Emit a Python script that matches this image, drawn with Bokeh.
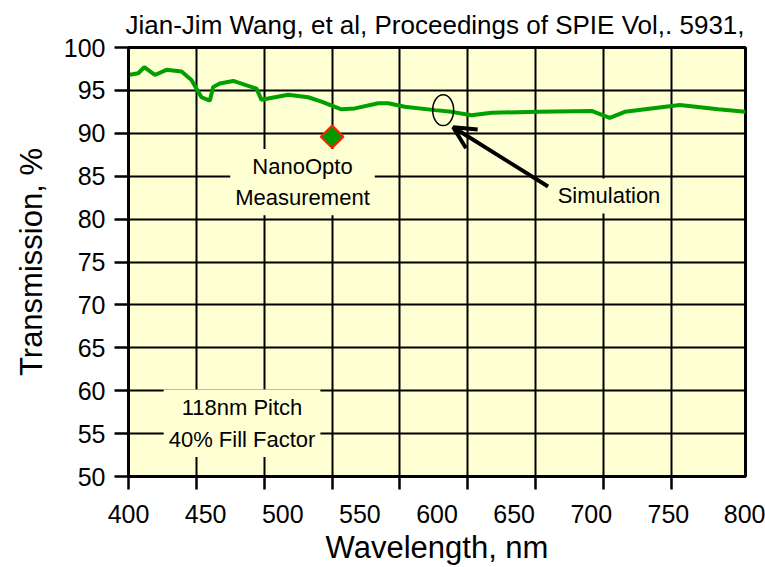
import numpy as np
from bokeh.plotting import figure
from bokeh.models import (LinearAxis, FixedTicker, Label, Arrow, OpenHead, Range1d,
                          CustomLabelingPolicy)
from bokeh.embed import file_html
from bokeh.resources import INLINE

# Simulated transmission of the wire-grid structure (wavelength in nm, transmission in %)
sim_wavelength = [400, 406.3, 410.2, 417.1, 424.6, 434.4, 440.8, 447.3, 452.7, 454.9,
                  459.2, 467.9, 483.0, 486.2, 503.5, 516.5, 525.1, 538.1, 546.7, 561.9,
                  568.4, 579.1, 598.6, 609.4, 622.4, 635.3, 665.6, 700.2, 712.0, 721.8,
                  757.4, 782.3, 800]
sim_transmission = [96.8, 97.0, 97.7, 96.8, 97.4, 97.2, 96.2, 94.2, 93.8, 95.4,
                    95.8, 96.1, 95.2, 93.9, 94.5, 94.2, 93.7, 92.8, 92.9, 93.5,
                    93.5, 93.1, 92.7, 92.5, 92.1, 92.4, 92.5, 92.6, 91.8, 92.5,
                    93.3, 92.8, 92.5]

# Single measured point
meas_wavelength = [532]
meas_transmission = [89.6]

# Axis labelling
x_label_ticks = [400, 450, 500, 550, 600, 650, 700, 750, 800]
grid_wavelengths = [400, 444, 488, 532, 576, 620, 664, 708, 752]
y_ticks = [50, 55, 60, 65, 70, 75, 80, 85, 90, 95, 100]

BG = "#FFFFD4"
FONT = "Liberation Sans"

p = figure(width=765, height=567, x_range=Range1d(400, 800), y_range=Range1d(50, 100),
           output_backend="svg", toolbar_location=None,
           min_border_left=128, min_border_right=20, min_border_top=47, min_border_bottom=91,
           background_fill_color=BG, border_fill_color="white")

p.outline_line_color = "black"
p.outline_line_width = 3

# Title
p.title.text = "Jian-Jim Wang, et al, Proceedings of SPIE Vol,. 5931,"
p.title.align = "left"
p.title.offset = -3
p.title.text_font = FONT
p.title.text_font_size = "26px"
p.title.text_font_style = "normal"
p.title.text_color = "black"
p.title.standoff = 15

# Grid
for g in (p.xgrid, p.ygrid):
    g.grid_line_color = "black"
    g.grid_line_width = 2

# Y axis
ya = p.yaxis[0]
ya.ticker = FixedTicker(ticks=y_ticks)
ya.axis_line_width = 3
ya.major_tick_out = 14
ya.major_tick_in = 0
ya.major_tick_line_width = 2.5
ya.minor_tick_line_color = None
ya.major_label_text_font = FONT
ya.major_label_text_font_size = "25px"
ya.major_label_text_color = "black"
ya.major_label_standoff = 9
ya.axis_label = "Transmission, %"
ya.axis_label_text_font = FONT
ya.axis_label_text_font_size = "31px"
ya.axis_label_text_font_style = "normal"
ya.axis_label_text_color = "black"
ya.axis_label_standoff = 12

# X axis carrying only the tick marks along the grid (its labels are suppressed)
xa = p.xaxis[0]
xa.ticker = FixedTicker(ticks=grid_wavelengths)
xa.axis_line_width = 3
xa.major_tick_out = 13
xa.major_tick_in = 0
xa.major_tick_line_width = 2.5
xa.minor_tick_line_color = None
xa.major_label_text_font_size = "0px"
xa.major_label_standoff = 0
xa.major_label_policy = CustomLabelingPolicy(code="""
    const all = [...indices]
    for (const i of all) indices.unset(i)
    return indices
""")

# X axis carrying the wavelength labels
xb = LinearAxis(ticker=FixedTicker(ticks=x_label_ticks))
xb.axis_line_color = None
xb.major_tick_line_color = None
xb.minor_tick_line_color = None
xb.major_label_text_font = FONT
xb.major_label_text_font_size = "25px"
xb.major_label_text_color = "black"
xb.major_label_standoff = 9
xb.axis_label = "Wavelength, nm"
xb.axis_label_text_font = FONT
xb.axis_label_text_font_size = "31px"
xb.axis_label_text_font_style = "normal"
xb.axis_label_text_color = "black"
xb.axis_label_standoff = 4
p.add_layout(xb, "below")

# Simulation curve and measured point
p.line(sim_wavelength, sim_transmission, line_color="#00A000", line_width=4)
p.scatter(meas_wavelength, meas_transmission, marker="square", angle=np.pi / 4, size=16,
          fill_color="#009900", line_color="#FF2200", line_width=2)

# Marker ring and arrow for the simulation callout
p.ellipse(x=[604], y=[92.7], width=13.6, height=3.6, fill_color=None,
          line_color="black", line_width=1.5)
p.add_layout(Arrow(end=OpenHead(size=22, line_width=4, line_color="black"),
                   x_start=672, y_start=83.8, x_end=610.5, y_end=90.7,
                   line_width=4, line_color="black"))


def note(x, y, text, lh=1.25):
    p.add_layout(Label(x=x, y=y, text=text, text_align="center", text_baseline="middle",
                       text_font=FONT, text_font_size="22px", text_color="black",
                       text_line_height=lh, background_fill_color=BG, padding=5))


note(512.8, 84.3, "NanoOpto\nMeasurement")
note(711.5, 82.7, "Simulation")
note(473.6, 56.2, "118nm Pitch\n40% Fill Factor", lh=1.3)

open("out.html", "w").write(file_html(p, INLINE))
